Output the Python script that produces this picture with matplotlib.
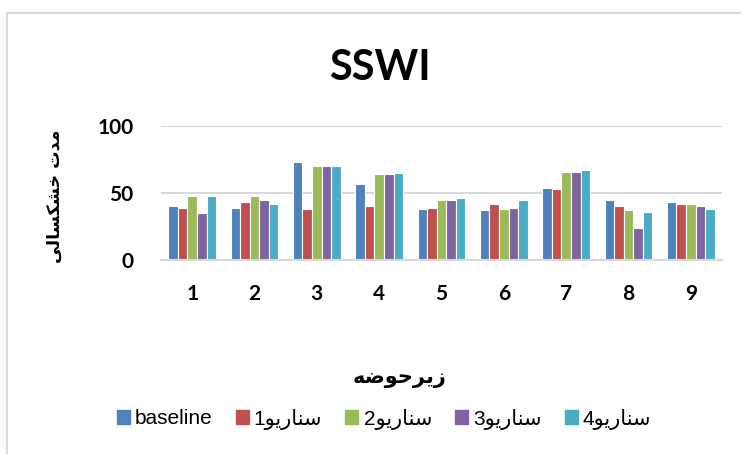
import matplotlib
matplotlib.use("Agg")
import matplotlib.pyplot as plt
import numpy as np
from matplotlib.patches import Rectangle

categories = ["1", "2", "3", "4", "5", "6", "7", "8", "9"]
series_names = ["baseline", "سناریو1", "سناریو2", "سناریو3", "سناریو4"]
baseline = [40, 39, 73, 57, 38, 37, 54, 45, 43]
scen1 = [39, 43, 38, 40, 39, 42, 53, 40, 42]
scen2 = [48, 48, 70, 64, 45, 38, 66, 37, 42]
scen3 = [35, 45, 70, 64, 45, 39, 66, 24, 40]
scen4 = [48, 42, 70, 65, 46, 45, 67, 36, 38]
yticks = [0, 50, 100]
title = "SSWI"
xlabel = "زیرحوضه"
ylabel = "مدت خشکسالی"
colors = ["#4F81BD", "#C0504D", "#9BBB59", "#8064A2", "#4BACC6"]

# --- minimal Arabic/Persian shaping for display (matplotlib has no bidi) ---
FORMS = {
    '\u0627': ('\uFE8D', '\uFE8E', None, None),
    '\u062A': ('\uFE95', '\uFE96', '\uFE97', '\uFE98'),
    '\u062D': ('\uFEA1', '\uFEA2', '\uFEA3', '\uFEA4'),
    '\u062E': ('\uFEA5', '\uFEA6', '\uFEA7', '\uFEA8'),
    '\u062F': ('\uFEA9', '\uFEAA', None, None),
    '\u0631': ('\uFEAD', '\uFEAE', None, None),
    '\u0632': ('\uFEAF', '\uFEB0', None, None),
    '\u0633': ('\uFEB1', '\uFEB2', '\uFEB3', '\uFEB4'),
    '\u0634': ('\uFEB5', '\uFEB6', '\uFEB7', '\uFEB8'),
    '\u0636': ('\uFEBD', '\uFEBE', '\uFEBF', '\uFEC0'),
    '\u0644': ('\uFEDD', '\uFEDE', '\uFEDF', '\uFEE0'),
    '\u0645': ('\uFEE1', '\uFEE2', '\uFEE3', '\uFEE4'),
    '\u0646': ('\uFEE5', '\uFEE6', '\uFEE7', '\uFEE8'),
    '\u0647': ('\uFEE9', '\uFEEA', '\uFEEB', '\uFEEC'),
    '\u0648': ('\uFEED', '\uFEEE', None, None),
    '\u06A9': ('\uFB8E', '\uFB8F', '\uFB90', '\uFB91'),
    '\u06CC': ('\uFBFC', '\uFBFD', '\uFBFE', '\uFBFF'),
}


def shape_word(s):
    out = []
    n = len(s)
    for i, ch in enumerate(s):
        if ch not in FORMS:
            out.append(ch)
            continue
        prev = s[i - 1] if i > 0 else None
        nxt = s[i + 1] if i < n - 1 else None
        join_prev = prev in FORMS and FORMS[prev][2] is not None
        join_next = nxt in FORMS and FORMS[ch][2] is not None
        iso, fin, ini, med = FORMS[ch]
        if join_prev and join_next:
            out.append(med)
        elif join_prev:
            out.append(fin)
        elif join_next:
            out.append(ini)
        else:
            out.append(iso)
    return out


def rtl(s):
    if not any(c in FORMS for c in s):
        return s
    digits = ""
    core = s
    while core and core[-1].isdigit():
        digits = core[-1] + digits
        core = core[:-1]
    shaped = shape_word(core)
    return digits + "".join(reversed(shaped))


fig = plt.figure(figsize=(7.41, 4.54), dpi=100)
fig.patches.append(Rectangle((7 / 741, -0.1), 1.2, 1 - 13 / 454 + 0.1,
                             transform=fig.transFigure, fill=False,
                             edgecolor="#D9D9D9", linewidth=1.5))

ax = fig.add_axes([161 / 741, 1 - 260 / 454, (722 - 161) / 741, (260 - 126) / 454])
x = np.arange(len(categories))
data = [baseline, scen1, scen2, scen3, scen4]
w = 0.154
for i, (vals, c) in enumerate(zip(data, colors)):
    ax.bar(x + (i - 2) * w, vals, width=w, color=c, edgecolor="white",
           linewidth=0.8, zorder=3)

ax.set_xlim(-0.5, len(categories) - 0.5)
ax.set_ylim(0, 100)
ax.set_yticks(yticks)
ax.set_yticklabels([str(t) for t in yticks], fontfamily="Lato",
                   fontweight="bold", fontsize=15)
ax.set_xticks(x)
ax.set_xticklabels(categories, fontfamily="Lato", fontweight="bold", fontsize=15)
ax.tick_params(axis="both", length=0)
ax.tick_params(axis="y", pad=20)
ax.tick_params(axis="x", pad=17)
ax.grid(axis="y", color="#D9D9D9", linewidth=1.5, zorder=0)
for sp in ["top", "right", "left"]:
    ax.spines[sp].set_visible(False)
ax.spines["bottom"].set_color("#D9D9D9")
ax.spines["bottom"].set_linewidth(1.5)
ax.spines["bottom"].set_zorder(4)

fig.text(380 / 741, 1 - 68 / 454, title, fontfamily="Lato", fontweight="bold",
         fontsize=30, ha="center", va="center")
fig.text(399 / 741, 1 - 378 / 454, rtl(xlabel), fontfamily="DejaVu Sans",
         fontweight="bold", fontsize=15, ha="center", va="center")
fig.text(55 / 741, 1 - 196 / 454, rtl(ylabel), fontfamily="DejaVu Sans",
         fontweight="bold", fontsize=12.5, ha="center", va="center", rotation=90)

handles = [Rectangle((0, 0), 1, 1, color=c) for c in colors]
leg = fig.legend(handles, [rtl(s) for s in series_names], ncol=5,
                 loc="center", bbox_to_anchor=(384 / 741, 1 - 419 / 454),
                 frameon=False, handlelength=0.63, handleheight=0.63,
                 handletextpad=0.25, columnspacing=1.1,
                 prop={"family": ["Liberation Sans", "DejaVu Sans"], "size": 15})

fig.savefig("out.png", dpi=100)
